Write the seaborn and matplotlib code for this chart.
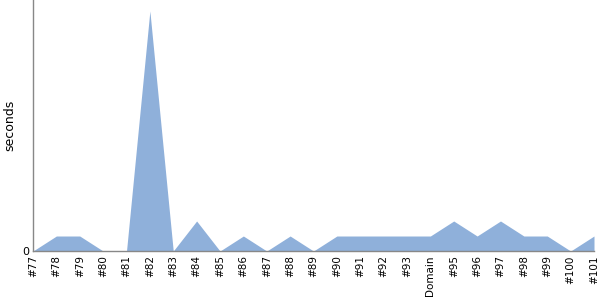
import matplotlib
matplotlib.use("Agg")
import matplotlib.pyplot as plt
import seaborn as sns
import pandas as pd

categories = ["#77", "#78", "#79", "#80", "#81", "#82", "#83", "#84", "#85", "#86",
              "#87", "#88", "#89", "#90", "#91", "#92", "#93", "Domain", "#95", "#96",
              "#97", "#98", "#99", "#100", "#101"]
seconds = [0, 1, 1, 0, 0, 16, 0, 2, 0, 1,
           0, 1, 0, 1, 1, 1, 1, 1, 2, 1,
           2, 1, 1, 0, 1]

sns.set_style("white")
plt.rcParams['font.family'] = ['DejaVu Sans']
plt.rcParams['text.color'] = 'black'
plt.rcParams['axes.labelcolor'] = 'black'
plt.rcParams['xtick.color'] = 'black'
plt.rcParams['ytick.color'] = 'black'

df = pd.DataFrame({"build": categories, "seconds": seconds})
df["pos"] = range(len(df))

fig = plt.figure(figsize=(6, 3), dpi=100)
ax = fig.add_axes([0.055, 0.1633, 0.935, 0.8367])
sns.lineplot(data=df, x="pos", y="seconds", ax=ax, color="#8fb0da", linewidth=0)
ax.fill_between(df["pos"], df["seconds"], color="#8fb0da", linewidth=0)

ax.set_xlim(0, len(categories) - 1)
ax.set_ylim(0, 16.73)
ax.set_xticks(df["pos"])
ax.set_xticklabels(categories, rotation=90, fontsize=7.5)
ax.set_yticks([0])
ax.set_yticklabels(["0"], fontsize=8)
ax.set_xlabel("")
ax.set_ylabel("seconds", fontsize=9)
ax.tick_params(axis="both", length=0, pad=3)
for s in ["top", "right"]:
    ax.spines[s].set_visible(False)
for s in ["left", "bottom"]:
    ax.spines[s].set_color("#888888")
    ax.spines[s].set_linewidth(1)

fig.savefig("out.png", dpi=100)
